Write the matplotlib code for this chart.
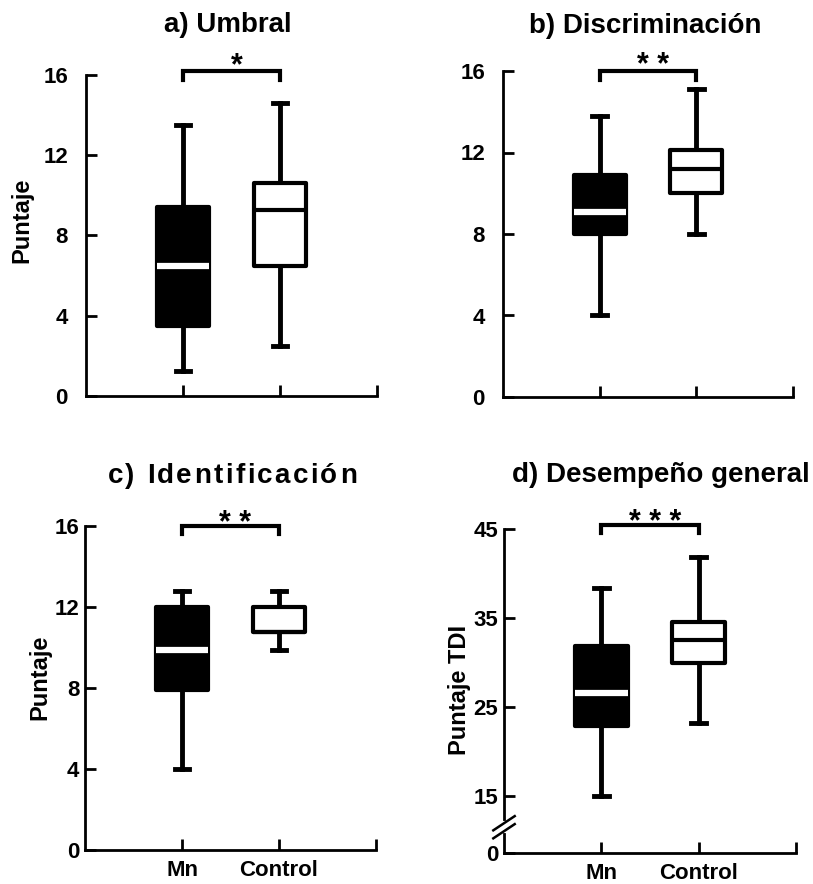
import matplotlib.pyplot as plt
from matplotlib.font_manager import FontProperties, findfont, get_font

plt.rcParams['font.family'] = ['Liberation Sans', 'DejaVu Sans']
plt.rcParams['font.weight'] = 'bold'

groups = ['Mn', 'Control']

# a) Umbral
umbral_min = [1.25, 2.5]
umbral_q1 = [3.5, 6.5]
umbral_med = [6.5, 9.25]
umbral_q3 = [9.4, 10.6]
umbral_max = [13.5, 14.6]

# b) Discriminación
disc_min = [4.0, 8.0]
disc_q1 = [8.0, 10.0]
disc_med = [9.1, 11.2]
disc_q3 = [10.9, 12.1]
disc_max = [13.8, 15.1]

# c) Identificación
ident_min = [4.0, 9.9]
ident_q1 = [7.9, 10.75]
ident_med = [9.9, 10.75]
ident_q3 = [12.0, 12.0]
ident_max = [12.8, 12.8]

# d) Desempeño general (TDI)
tdi_min = [15.0, 23.2]
tdi_q1 = [22.8, 29.9]
tdi_med = [26.6, 32.5]
tdi_q3 = [31.8, 34.5]
tdi_max = [38.4, 41.8]

W, H = 813, 884
fig = plt.figure(figsize=(W / 100, H / 100), dpi=100)


def px_axes(x0, x1, y_top, y_bot):
    # caja de ejes en pixeles de la figura
    return fig.add_axes([x0 / W, 1 - y_bot / H, (x1 - x0) / W, (y_bot - y_top) / H])


def make_stats(lo, q1, med, q3, hi):
    return [dict(whislo=lo[i], q1=q1[i], med=med[i], q3=q3[i], whishi=hi[i], fliers=[])
            for i in range(len(groups))]


def draw_boxes(ax, stats):
    bp = ax.bxp(stats, positions=[1, 2], widths=0.54, capwidths=0.15,
                patch_artist=True, showfliers=False,
                boxprops=dict(linewidth=3, edgecolor='black'),
                whiskerprops=dict(linewidth=3.5, color='black'),
                capprops=dict(linewidth=3.5, color='black'),
                medianprops=dict(linewidth=3))
    for box, fc in zip(bp['boxes'], ['black', 'white']):
        box.set_facecolor(fc)
        box.set_joinstyle('round')
    bp['medians'][0].set_color('white')
    bp['medians'][0].set_linewidth(4.5)
    bp['medians'][1].set_color('black')
    for b in bp['boxes'] + bp['medians']:
        b.set_zorder(3)


def style_axes(ax, ylim, yticks, pad, xlabels):
    ax.spines[['top', 'right']].set_visible(False)
    ax.spines[['left', 'bottom']].set_linewidth(2)
    ax.set_xlim(0, 3)
    ax.set_ylim(*ylim)
    ax.set_yticks(yticks)
    ax.set_xticks([1, 2, 3])
    ax.set_xticklabels(xlabels + [''] if xlabels else ['', '', ''])
    ax.tick_params(axis='y', direction='in', length=8, width=2, labelsize=16, pad=pad)
    ax.tick_params(axis='x', direction='in', length=8, width=2, labelsize=16, pad=7)


def bracket(ax, top, drop, stars, off=-2):
    ax.plot([1, 1, 2, 2], [top - drop, top, top, top - drop], color='black', lw=3,
            clip_on=False, solid_joinstyle='miter')
    ax.annotate(stars, xy=(1.55, top), xytext=(0, off), textcoords='offset points',
                ha='center', va='baseline', fontsize=22, annotation_clip=False)


def spaced_text(s, xc, yb, size, gap):
    # titulo con espaciado entre letras
    prop = FontProperties(family='Liberation Sans', weight='bold', size=size)
    font = get_font(findfont(prop))
    font.set_size(size, 72)
    adv = [font.load_char(ord(c)).linearHoriAdvance / 65536 for c in s]
    k = fig.dpi / 72
    x = xc - (sum(adv) + gap * (len(s) - 1)) * k / 2
    for c, a in zip(s, adv):
        fig.text(x / W, 1 - yb / H, c, fontsize=size, fontweight='bold',
                 ha='left', va='baseline')
        x += (a + gap) * k


# a) Umbral
ax_a = px_axes(86, 377, 75, 396)
draw_boxes(ax_a, make_stats(umbral_min, umbral_q1, umbral_med, umbral_q3, umbral_max))
style_axes(ax_a, (0, 16), [0, 4, 8, 12, 16], 13, None)
bracket(ax_a, 16.2, 0.45, '*')
fig.text(228 / W, 1 - 32 / H, 'a) Umbral', fontsize=20, ha='center', va='baseline')
fig.text(22 / W, 1 - 220 / H, 'Puntaje', fontsize=17, rotation=90, ha='center', va='center')

# b) Discriminación
ax_b = px_axes(503, 793, 71, 397)
draw_boxes(ax_b, make_stats(disc_min, disc_q1, disc_med, disc_q3, disc_max))
style_axes(ax_b, (0, 16), [0, 4, 8, 12, 16], 13, None)
bracket(ax_b, 16.0, 0.45, '* *')
fig.text(645 / W, 1 - 33 / H, 'b) Discriminación', fontsize=20, ha='center', va='baseline')

# c) Identificación
ax_c = px_axes(85, 376, 526, 850)
draw_boxes(ax_c, make_stats(ident_min, ident_q1, ident_med, ident_q3, ident_max))
style_axes(ax_c, (0, 16), [0, 4, 8, 12, 16], 4, groups)
bracket(ax_c, 16.0, 0.4, '* *', off=-4)
spaced_text('c) Identificación', 232, 483, 20, 1.7)
fig.text(40 / W, 1 - 677 / H, 'Puntaje', fontsize=17, rotation=90, ha='center', va='center')

# d) Desempeño general
y0 = 8.55
ax_d = px_axes(504, 796, 529, 853)
draw_boxes(ax_d, make_stats(tdi_min, tdi_q1, tdi_med, tdi_q3, tdi_max))
style_axes(ax_d, (y0, 45), [y0, 15, 25, 35, 45], 4, groups)
ax_d.set_yticklabels(['0', '15', '25', '35', '45'])
bracket(ax_d, 45.4, 0.8, '* * *', off=-4)
fig.text(661 / W, 1 - 482 / H, 'd) Desempeño general', fontsize=20, ha='center', va='baseline')
fig.text(459 / W, 1 - 690 / H, 'Puntaje TDI', fontsize=17, rotation=90, ha='center', va='center')
# corte del eje
for yc in (11.0, 11.9):
    ax_d.plot([-0.11, 0.11], [yc - 0.8, yc + 0.8], color='black', lw=1.8, clip_on=False, zorder=5)
ax_d.plot([0, 0], [11.0, 11.9], color='white', lw=3, clip_on=False, zorder=4)

fig.savefig('out.png', dpi=100)
